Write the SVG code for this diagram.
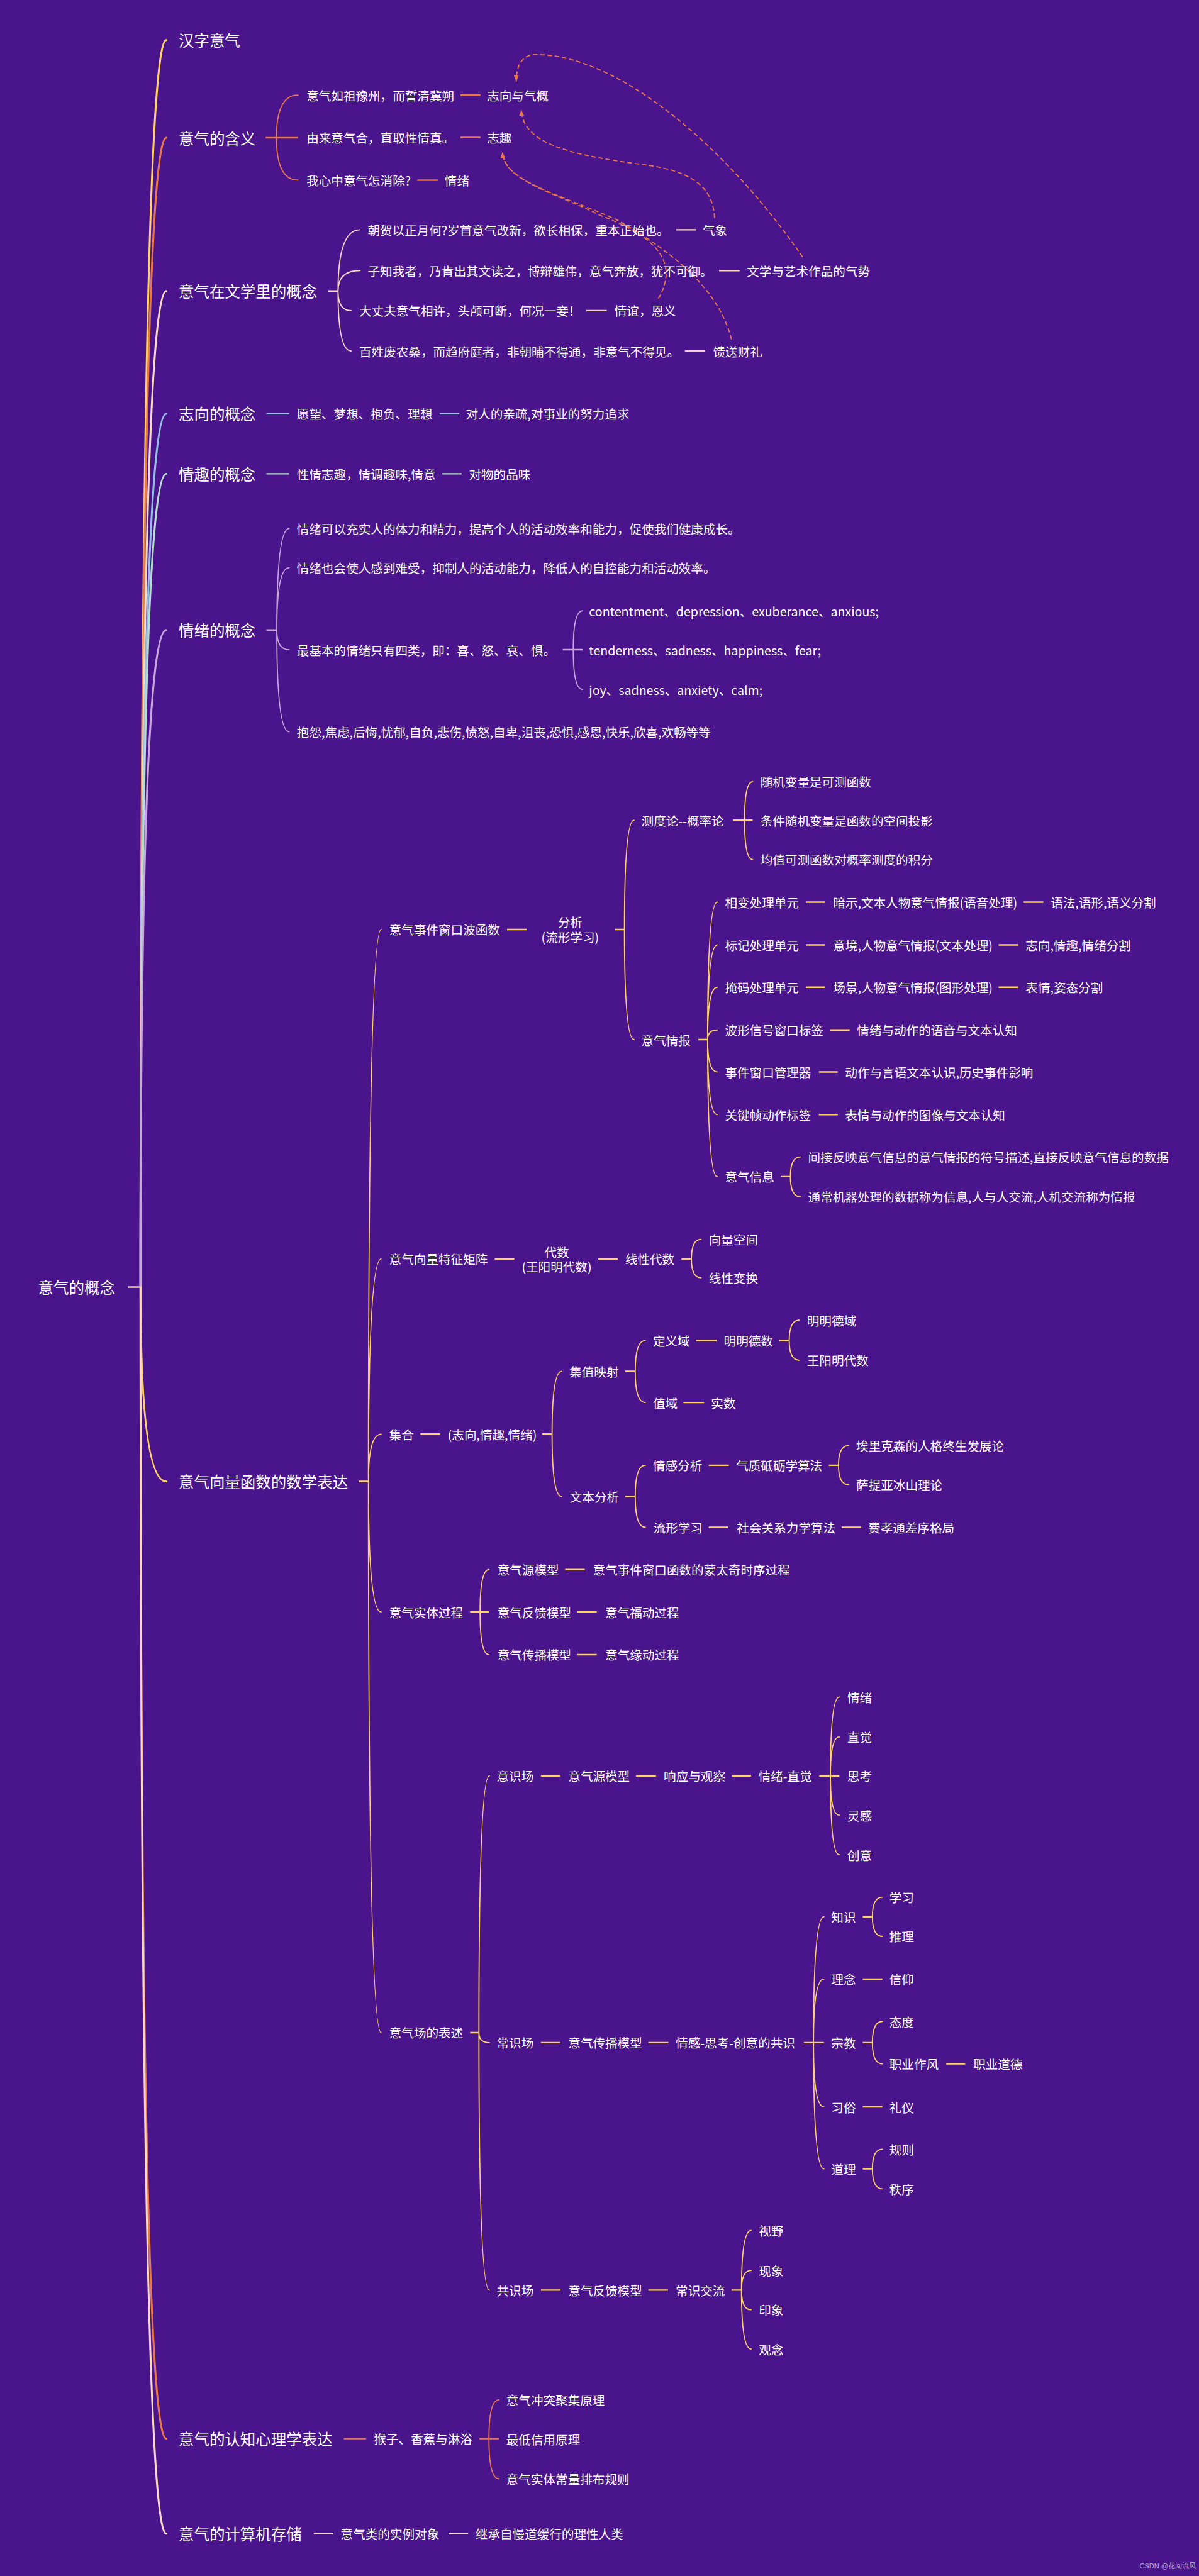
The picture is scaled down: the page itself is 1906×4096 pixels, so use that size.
<svg xmlns="http://www.w3.org/2000/svg" width="1906" height="4096" viewBox="0 0 1906 4096">
<style>
.t{font-family:"Noto Sans CJK SC","Noto Sans",sans-serif;fill:#fff;dominant-baseline:central}
.m{font-size:40px}
.s{font-size:32px}
.mid{text-anchor:middle}
.c{fill:none;stroke-width:3;stroke-linecap:round}
.st{stroke-width:4;stroke-linecap:butt}
.mb{stroke-width:5}
.y{stroke:#FFD166}.o{stroke:#E8774A}.p{stroke:#F9D8C6}.b{stroke:#93BEE6}.g{stroke:#B8DCCF}.l{stroke:#C9A4DE}
.rel{fill:none;stroke:#E8774A;stroke-width:3;stroke-dasharray:12 7}
.wm{font-family:"Liberation Sans","Noto Sans CJK SC",sans-serif;font-size:18px;fill:#B9A9CC}
</style>
<defs>
<marker id="ah" viewBox="0 0 10 10" refX="10" refY="5" markerWidth="16" markerHeight="16" markerUnits="userSpaceOnUse" orient="auto"><path d="M0,1 L10,5 L0,9 z" fill="#E8774A"/></marker>
</defs>
<rect width="1906" height="4096" fill="#4A148C"/>
<g transform="scale(0.612)">
<g id="connectors">
<path class="c st p" d="M332 3344 H366"/>
<path class="c mb y" d="M365 3344 Q365 104 432 104"/>
<path class="c mb o" d="M365 3344 Q365 358 432 358"/>
<path class="c mb p" d="M365 3344 Q365 756 432 756"/>
<path class="c mb b" d="M365 3344 Q365 1075 432 1075"/>
<path class="c mb g" d="M365 3344 Q365 1231 432 1231"/>
<path class="c mb l" d="M365 3344 Q365 1637 432 1637"/>
<path class="c mb y" d="M365 3344 Q365 3849 432 3849"/>
<path class="c mb o" d="M365 3344 Q365 6336 432 6336"/>
<path class="c mb p" d="M365 3344 Q365 6583 432 6583"/>
<!-- 意气的含义 -->
<path class="c st o" d="M690 358 H774 M1196 247 H1248 M1196 357 H1248 M1084 468 H1137"/>
<path class="c o" d="M718 358 Q718 247 774 247 M718 358 Q718 468 774 468"/>
<!-- 文学 -->
<path class="c st p" d="M853 756 H878 M1756 597 H1808 M1868 703 H1921 M1523 807 H1576 M1779 912 H1831"/>
<path class="c p" d="M878 756 Q878 597 935 597 M878 756 Q878 703 935 703 M878 756 Q878 807 912 807 M878 756 Q878 912 912 912"/>
<!-- 志向 情趣 -->
<path class="c st b" d="M692 1075 H751 M1142 1075 H1193"/>
<path class="c st g" d="M692 1231 H751 M1149 1231 H1199"/>
<!-- 情绪 -->
<path class="c st l" d="M692 1637 H719 M1462 1688 H1513"/>
<path class="c l" d="M719 1637 Q719 1373 751 1373 M719 1637 Q719 1475 751 1475 M719 1637 Q719 1688 751 1688 M719 1637 Q719 1901 751 1901 M1489 1688 Q1489 1587 1513 1587 M1489 1688 Q1489 1791 1513 1791"/>
<!-- 数学表达 -->
<path class="c st y" d="M932 3849 H957 M1317 2415 H1368 M1597 2415 H1622 M1904 2131 H1955 M1814 2701 H1838 M2093 2344 H2143 M2659 2344 H2710 M2093 2455 H2143 M2594 2455 H2645 M2093 2565 H2143 M2594 2565 H2645 M2157 2676 H2207 M2127 2785 H2176 M2127 2896 H2176 M2028 3057 H2053 M1285 3271 H1336 M1554 3271 H1605 M1770 3271 H1796 M1092 3726 H1143 M1408 3726 H1434 M1624 3563 H1650 M1808 3483 H1861 M2024 3483 H2050 M1775 3644 H1829 M1624 3888 H1650 M1841 3807 H1893 M2153 3807 H2178 M1841 3968 H1892 M2186 3968 H2237 M1221 4188 H1270 M1468 4078 H1519 M1499 4188 H1550 M1499 4299 H1550 M1221 5281 H1244 M1405 4614 H1455 M1652 4614 H1704 M1901 4614 H1951 M2128 4614 H2180 M1405 5307 H1455 M1684 5307 H1736 M2088 5307 H2140 M2241 4980 H2266 M2241 5142 H2292 M2241 5307 H2266 M2458 5362 H2507 M2241 5474 H2292 M2241 5635 H2266 M1405 5950 H1456 M1684 5950 H1735 M1900 5950 H1926"/>
<path class="c y" d="M957 3849 Q957 2415 990 2415 M957 3849 Q957 3271 990 3271 M957 3849 Q957 3726 990 3726 M957 3849 Q957 4188 990 4188 M957 3849 Q957 5281 990 5281
M1622 2415 Q1622 2131 1647 2131 M1622 2415 Q1622 2701 1647 2701
M1934 2131 Q1934 2031 1955 2031 M1934 2131 Q1934 2233 1955 2233
M1838 2701 Q1838 2344 1863 2344 M1838 2701 Q1838 2455 1863 2455 M1838 2701 Q1838 2565 1863 2565 M1838 2701 Q1838 2676 1863 2676 M1838 2701 Q1838 2785 1863 2785 M1838 2701 Q1838 2896 1863 2896 M1838 2701 Q1838 3057 1863 3057
M2053 3057 Q2053 3006 2079 3006 M2053 3057 Q2053 3109 2079 3109
M1796 3271 Q1796 3220 1821 3220 M1796 3271 Q1796 3320 1821 3320
M1434 3726 Q1434 3563 1459 3563 M1434 3726 Q1434 3888 1459 3888
M1650 3563 Q1650 3483 1676 3483 M1650 3563 Q1650 3644 1676 3644
M2050 3483 Q2050 3430 2076 3430 M2050 3483 Q2050 3534 2076 3534
M1650 3888 Q1650 3807 1676 3807 M1650 3888 Q1650 3968 1676 3968
M2178 3807 Q2178 3756 2204 3756 M2178 3807 Q2178 3857 2204 3857
M1247 4188 Q1247 4078 1270 4078 M1247 4188 Q1247 4299 1270 4299
M1244 5281 Q1244 4614 1271 4614 M1244 5281 Q1244 5307 1271 5307 M1244 5281 Q1244 5950 1271 5950
M2157 4614 Q2157 4409 2180 4409 M2157 4614 Q2157 4513 2180 4513 M2157 4614 Q2157 4716 2180 4716 M2157 4614 Q2157 4819 2180 4819
M2113 5307 Q2113 4980 2140 4980 M2113 5307 Q2113 5142 2140 5142 M2113 5307 Q2113 5474 2140 5474 M2113 5307 Q2113 5635 2140 5635
M2266 4980 Q2266 4929 2292 4929 M2266 4980 Q2266 5031 2292 5031
M2266 5307 Q2266 5252 2292 5252 M2266 5307 Q2266 5362 2292 5362
M2266 5635 Q2266 5584 2292 5584 M2266 5635 Q2266 5687 2292 5687
M1926 5950 Q1926 5795 1951 5795 M1926 5950 Q1926 5899 1951 5899 M1926 5950 Q1926 6001 1951 6001 M1926 5950 Q1926 6103 1951 6103"/>
<!-- 认知心理学 -->
<path class="c st o" d="M893 6336 H951 M1245 6336 H1296"/>
<path class="c o" d="M1270 6336 Q1270 6235 1296 6235 M1270 6336 Q1270 6440 1296 6440"/>
<!-- 计算机存储 -->
<path class="c st p" d="M815 6583 H866 M1165 6583 H1216"/>
<!-- relationships -->
<path class="rel" marker-end="url(#ah)" d="M2085 668 C1877 368 1600 142 1393 142 C1355 142 1341 170 1341 212"/>
<path class="rel" marker-end="url(#ah)" d="M1856 566 C1852 480 1790 440 1650 425 C1470 400 1358 370 1354 285"/>
<path class="rel" marker-end="url(#ah)" d="M1710 776 C1760 690 1720 620 1560 560 C1440 500 1310 470 1305 396"/>
<path class="rel" marker-end="url(#ah)" d="M1900 882 C1870 760 1760 660 1600 570 C1440 500 1310 470 1305 396"/>
</g>
<g id="root"><text class="t m" x="99" y="3344">意气的概念</text></g>
<g id="b1"><text class="t m" x="464" y="104">汉字意气</text></g>
<g id="b2"><text class="t m" x="464" y="358">意气的含义</text></g>
<g id="b2a"><text class="t s" x="796" y="247">意气如祖豫州，而誓清冀朔</text></g>
<g id="b2a1"><text class="t s" x="1265" y="247">志向与气概</text></g>
<g id="b2b"><text class="t s" x="796" y="357">由来意气合，直取性情真。</text></g>
<g id="b2b1"><text class="t s" x="1265" y="357">志趣</text></g>
<g id="b2c"><text class="t s" x="796" y="468">我心中意气怎消除?</text></g>
<g id="b2c1"><text class="t s" x="1155" y="468">情绪</text></g>
<g id="b3"><text class="t m" x="464" y="756">意气在文学里的概念</text></g>
<g id="b3a"><text class="t s" x="955" y="597">朝贺以正月何?岁首意气改新，欲长相保，重本正始也。</text></g>
<g id="b3a1"><text class="t s" x="1825" y="597">气象</text></g>
<g id="b3b"><text class="t s" x="955" y="703">子知我者，乃肯出其文读之，博辩雄伟，意气奔放，犹不可御。</text></g>
<g id="b3b1"><text class="t s" x="1940" y="703">文学与艺术作品的气势</text></g>
<g id="b3c"><text class="t s" x="933" y="807">大丈夫意气相许，头颅可断，何况一妾！</text></g>
<g id="b3c1"><text class="t s" x="1596" y="807">情谊，恩义</text></g>
<g id="b3d"><text class="t s" x="933" y="912">百姓废农桑，而趋府庭者，非朝晡不得通，非意气不得见。</text></g>
<g id="b3d1"><text class="t s" x="1852" y="912">馈送财礼</text></g>
<g id="b4"><text class="t m" x="464" y="1075">志向的概念</text></g>
<g id="b4a"><text class="t s" x="771" y="1075">愿望、梦想、抱负、理想</text></g>
<g id="b4b"><text class="t s" x="1210" y="1075">对人的亲疏,对事业的努力追求</text></g>
<g id="b5"><text class="t m" x="464" y="1231">情趣的概念</text></g>
<g id="b5a"><text class="t s" x="771" y="1231">性情志趣，情调趣味,情意</text></g>
<g id="b5b"><text class="t s" x="1218" y="1231">对物的品味</text></g>
<g id="b6"><text class="t m" x="464" y="1637">情绪的概念</text></g>
<g id="b6a"><text class="t s" x="771" y="1373">情绪可以充实人的体力和精力，提高个人的活动效率和能力，促使我们健康成长。</text></g>
<g id="b6b"><text class="t s" x="771" y="1475">情绪也会使人感到难受，抑制人的活动能力，降低人的自控能力和活动效率。</text></g>
<g id="b6c"><text class="t s" x="771" y="1688">最基本的情绪只有四类，即：喜、怒、哀、惧。</text></g>
<g id="b6c1"><text class="t s" x="1530" y="1587">contentment、depression、exuberance、anxious;</text></g>
<g id="b6c2"><text class="t s" x="1530" y="1688">tenderness、sadness、happiness、fear;</text></g>
<g id="b6c3"><text class="t s" x="1530" y="1791">joy、sadness、anxiety、calm;</text></g>
<g id="b6d"><text class="t s" x="771" y="1901">抱怨,焦虑,后悔,忧郁,自负,悲伤,愤怒,自卑,沮丧,恐惧,感恩,快乐,欣喜,欢畅等等</text></g>
<g id="b7"><text class="t m" x="464" y="3849">意气向量函数的数学表达</text></g>
<g id="b7a"><text class="t s" x="1011" y="2415">意气事件窗口波函数</text></g>
<g id="b7a1"><text class="t s mid" x="1481" y="2395">分析</text><text class="t s mid" x="1481" y="2434">(流形学习)</text></g>
<g id="b7a1a"><text class="t s" x="1666" y="2131">测度论--概率论</text></g>
<g id="b7a1a1"><text class="t s" x="1975" y="2031">随机变量是可测函数</text></g>
<g id="b7a1a2"><text class="t s" x="1975" y="2131">条件随机变量是函数的空间投影</text></g>
<g id="b7a1a3"><text class="t s" x="1975" y="2233">均值可测函数对概率测度的积分</text></g>
<g id="b7a1b"><text class="t s" x="1666" y="2701">意气情报</text></g>
<g id="b7a1b1"><text class="t s" x="1883" y="2344">相变处理单元</text></g>
<g id="b7a1b1a"><text class="t s" x="2164" y="2344">暗示,文本人物意气情报(语音处理)</text></g>
<g id="b7a1b1b"><text class="t s" x="2729" y="2344">语法,语形,语义分割</text></g>
<g id="b7a1b2"><text class="t s" x="1883" y="2455">标记处理单元</text></g>
<g id="b7a1b2a"><text class="t s" x="2164" y="2455">意境,人物意气情报(文本处理)</text></g>
<g id="b7a1b2b"><text class="t s" x="2664" y="2455">志向,情趣,情绪分割</text></g>
<g id="b7a1b3"><text class="t s" x="1883" y="2565">掩码处理单元</text></g>
<g id="b7a1b3a"><text class="t s" x="2164" y="2565">场景,人物意气情报(图形处理)</text></g>
<g id="b7a1b3b"><text class="t s" x="2664" y="2565">表情,姿态分割</text></g>
<g id="b7a1b4"><text class="t s" x="1883" y="2676">波形信号窗口标签</text></g>
<g id="b7a1b4a"><text class="t s" x="2226" y="2676">情绪与动作的语音与文本认知</text></g>
<g id="b7a1b5"><text class="t s" x="1883" y="2785">事件窗口管理器</text></g>
<g id="b7a1b5a"><text class="t s" x="2195" y="2785">动作与言语文本认识,历史事件影响</text></g>
<g id="b7a1b6"><text class="t s" x="1883" y="2896">关键帧动作标签</text></g>
<g id="b7a1b6a"><text class="t s" x="2195" y="2896">表情与动作的图像与文本认知</text></g>
<g id="b7a1b7"><text class="t s" x="1883" y="3057">意气信息</text></g>
<g id="b7a1b7a"><text class="t s" x="2099" y="3006">间接反映意气信息的意气情报的符号描述,直接反映意气信息的数据</text></g>
<g id="b7a1b7b"><text class="t s" x="2099" y="3109">通常机器处理的数据称为信息,人与人交流,人机交流称为情报</text></g>
<g id="b7b"><text class="t s" x="1011" y="3271">意气向量特征矩阵</text></g>
<g id="b7b1"><text class="t s mid" x="1446" y="3252">代数</text><text class="t s mid" x="1446" y="3290">(王阳明代数)</text></g>
<g id="b7b2"><text class="t s" x="1624" y="3271">线性代数</text></g>
<g id="b7b2a"><text class="t s" x="1841" y="3220">向量空间</text></g>
<g id="b7b2b"><text class="t s" x="1841" y="3320">线性变换</text></g>
<g id="b7c"><text class="t s" x="1011" y="3726">集合</text></g>
<g id="b7c1"><text class="t s" x="1163" y="3726">(志向,情趣,情绪)</text></g>
<g id="b7c1a"><text class="t s" x="1479" y="3563">集值映射</text></g>
<g id="b7c1a1"><text class="t s" x="1696" y="3483">定义域</text></g>
<g id="b7c1a1a"><text class="t s" x="1880" y="3483">明明德数</text></g>
<g id="b7c1a1a1"><text class="t s" x="2096" y="3430">明明德域</text></g>
<g id="b7c1a1a2"><text class="t s" x="2096" y="3534">王阳明代数</text></g>
<g id="b7c1a2"><text class="t s" x="1696" y="3644">值域</text></g>
<g id="b7c1a2a"><text class="t s" x="1847" y="3644">实数</text></g>
<g id="b7c1b"><text class="t s" x="1480" y="3888">文本分析</text></g>
<g id="b7c1b1"><text class="t s" x="1696" y="3807">情感分析</text></g>
<g id="b7c1b1a"><text class="t s" x="1912" y="3807">气质砥砺学算法</text></g>
<g id="b7c1b1a1"><text class="t s" x="2224" y="3756">埃里克森的人格终生发展论</text></g>
<g id="b7c1b1a2"><text class="t s" x="2224" y="3857">萨提亚冰山理论</text></g>
<g id="b7c1b2"><text class="t s" x="1697" y="3968">流形学习</text></g>
<g id="b7c1b2a"><text class="t s" x="1914" y="3968">社会关系力学算法</text></g>
<g id="b7c1b2b"><text class="t s" x="2255" y="3968">费孝通差序格局</text></g>
<g id="b7d"><text class="t s" x="1011" y="4188">意气实体过程</text></g>
<g id="b7d1"><text class="t s" x="1292" y="4078">意气源模型</text></g>
<g id="b7d1a"><text class="t s" x="1540" y="4078">意气事件窗口函数的蒙太奇时序过程</text></g>
<g id="b7d2"><text class="t s" x="1292" y="4188">意气反馈模型</text></g>
<g id="b7d2a"><text class="t s" x="1572" y="4188">意气福动过程</text></g>
<g id="b7d3"><text class="t s" x="1292" y="4299">意气传播模型</text></g>
<g id="b7d3a"><text class="t s" x="1572" y="4299">意气缘动过程</text></g>
<g id="b7e"><text class="t s" x="1011" y="5281">意气场的表述</text></g>
<g id="b7e1"><text class="t s" x="1290" y="4614">意识场</text></g>
<g id="b7e1a"><text class="t s" x="1476" y="4614">意气源模型</text></g>
<g id="b7e1b"><text class="t s" x="1724" y="4614">响应与观察</text></g>
<g id="b7e1c"><text class="t s" x="1970" y="4614">情绪-直觉</text></g>
<g id="b7e1c1"><text class="t s" x="2201" y="4409">情绪</text></g>
<g id="b7e1c2"><text class="t s" x="2201" y="4513">直觉</text></g>
<g id="b7e1c3"><text class="t s" x="2201" y="4614">思考</text></g>
<g id="b7e1c4"><text class="t s" x="2201" y="4716">灵感</text></g>
<g id="b7e1c5"><text class="t s" x="2201" y="4819">创意</text></g>
<g id="b7e2"><text class="t s" x="1290" y="5307">常识场</text></g>
<g id="b7e2a"><text class="t s" x="1476" y="5307">意气传播模型</text></g>
<g id="b7e2b"><text class="t s" x="1755" y="5307">情感-思考-创意的共识</text></g>
<g id="b7e2b1"><text class="t s" x="2159" y="4980">知识</text></g>
<g id="b7e2b1a"><text class="t s" x="2310" y="4929">学习</text></g>
<g id="b7e2b1b"><text class="t s" x="2310" y="5031">推理</text></g>
<g id="b7e2b2"><text class="t s" x="2159" y="5142">理念</text></g>
<g id="b7e2b2a"><text class="t s" x="2310" y="5142">信仰</text></g>
<g id="b7e2b3"><text class="t s" x="2159" y="5307">宗教</text></g>
<g id="b7e2b3a"><text class="t s" x="2310" y="5252">态度</text></g>
<g id="b7e2b3b"><text class="t s" x="2310" y="5362">职业作风</text></g>
<g id="b7e2b3b1"><text class="t s" x="2528" y="5362">职业道德</text></g>
<g id="b7e2b4"><text class="t s" x="2159" y="5474">习俗</text></g>
<g id="b7e2b4a"><text class="t s" x="2310" y="5474">礼仪</text></g>
<g id="b7e2b5"><text class="t s" x="2159" y="5635">道理</text></g>
<g id="b7e2b5a"><text class="t s" x="2310" y="5584">规则</text></g>
<g id="b7e2b5b"><text class="t s" x="2310" y="5687">秩序</text></g>
<g id="b7e3"><text class="t s" x="1290" y="5950">共识场</text></g>
<g id="b7e3a"><text class="t s" x="1476" y="5950">意气反馈模型</text></g>
<g id="b7e3b"><text class="t s" x="1755" y="5950">常识交流</text></g>
<g id="b7e3b1"><text class="t s" x="1971" y="5795">视野</text></g>
<g id="b7e3b2"><text class="t s" x="1971" y="5899">现象</text></g>
<g id="b7e3b3"><text class="t s" x="1971" y="6001">印象</text></g>
<g id="b7e3b4"><text class="t s" x="1971" y="6103">观念</text></g>
<g id="b8"><text class="t m" x="464" y="6336">意气的认知心理学表达</text></g>
<g id="b8a"><text class="t s" x="971" y="6336">猴子、香蕉与淋浴</text></g>
<g id="b8a1"><text class="t s" x="1315" y="6235">意气冲突聚集原理</text></g>
<g id="b8a2"><text class="t s" x="1315" y="6337">最低信用原理</text></g>
<g id="b8a3"><text class="t s" x="1315" y="6440">意气实体常量排布规则</text></g>
<g id="b9"><text class="t m" x="464" y="6583">意气的计算机存储</text></g>
<g id="b9a"><text class="t s" x="885" y="6583">意气类的实例对象</text></g>
<g id="b9b"><text class="t s" x="1235" y="6583">继承自慢道缓行的理性人类</text></g>
<g id="watermark"><text class="wm" x="2960" y="6674">CSDN @花间流风</text></g>
</g>
</svg>
